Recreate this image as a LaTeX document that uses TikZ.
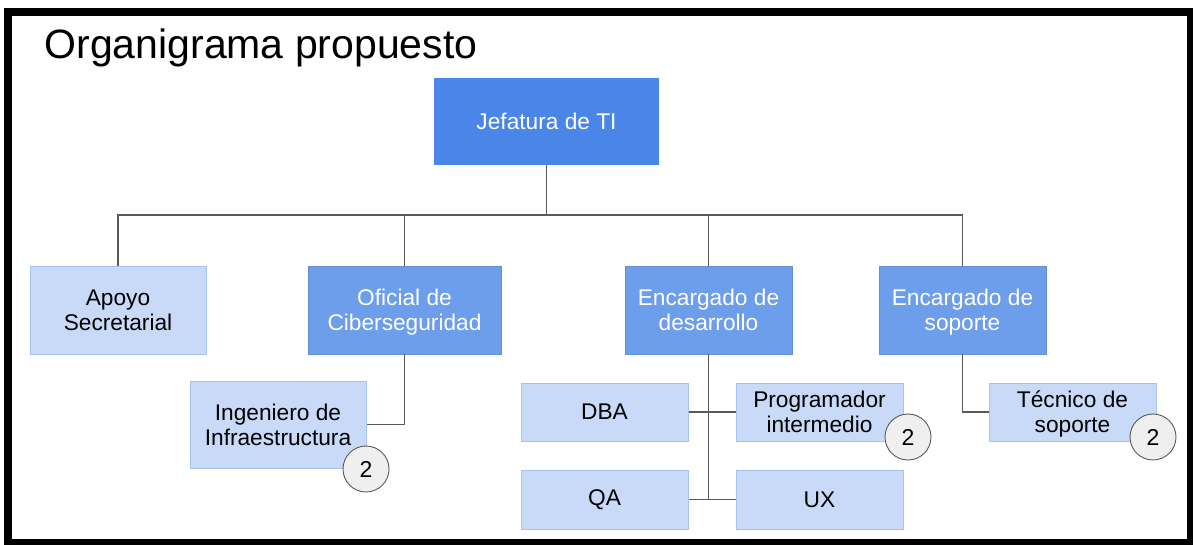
\documentclass[tikz,border=0pt]{standalone}
\usepackage{fontspec}
\setmainfont{Liberation Sans}
\definecolor{azulA}{HTML}{4A86E8}
\definecolor{azulB}{HTML}{6D9EEB}
\definecolor{azulC}{HTML}{C9DAF8}
\definecolor{bordeC}{HTML}{A4C2F4}
\definecolor{linea}{HTML}{595959}
\definecolor{gris}{HTML}{EFEFEF}
\newcommand{\alto}{\rule{0pt}{23.5pt}}
\tikzset{
  caja/.style={align=center, inner sep=0pt, font=\fontsize{22.7}{25}\selectfont},
  jefe/.style={caja, fill=azulA, text=white, minimum width=225pt, minimum height=87pt},
  mando/.style={caja, fill=azulB, draw=azulB!90!black, line width=0.6pt, text=white, minimum width=167pt, minimum height=88pt},
  puesto/.style={caja, fill=azulC, draw=bordeC, line width=1pt, minimum width=167pt, minimum height=58pt},
  cant/.style={circle, fill=gris, draw=linea, line width=0.9pt, minimum size=46pt, inner sep=0pt, font=\fontsize{23}{25}\selectfont},
  enlace/.style={draw=linea, line width=1.5pt}
}
\begin{document}
\begin{tikzpicture}[x=1pt, y=-1pt]
    \useasboundingbox (0,0) rectangle (1193,544);
    \fill[white] (0,0) rectangle (1193,544);
    \draw[black, line width=8pt] (8,12) rectangle (1191,543);
    \node[anchor=base west, font=\fontsize{41}{45}\selectfont] (titulo) at (41,58) {Organigrama propuesto};
    % primer nivel
    \node[jefe] (jefatura) at (546.5,121.5) {Jefatura de TI};
    \node[puesto, minimum width=176pt, minimum height=88pt] (apoyo) at (118,310) {\alto Apoyo\\Secretarial\strut};
    \node[mando, minimum width=193pt] (oficial) at (404.5,310) {\alto Oficial de\\Ciberseguridad\strut};
    \node[mando] (desarrollo) at (708.5,310) {\alto Encargado de\\desarrollo\strut};
    \node[mando] (soporte) at (962.5,310) {\alto Encargado de\\soporte\strut};
    % segundo nivel
    \node[puesto, minimum width=176pt, minimum height=87pt] (ingeniero) at (278,424.5) {\alto Ingeniero de\\Infraestructura\strut};
    \node[puesto] (dba) at (604.5,412) {DBA};
    \node[puesto] (programador) at (819.5,412) {\alto Programador\\intermedio\strut};
    \node[puesto, minimum height=59pt] (qa) at (604.5,499.5) {QA};
    \node[puesto, minimum height=59pt] (ux) at (819.5,499.5) {UX};
    \node[puesto] (tecnico) at (1072.5,412) {\alto Técnico de\\soporte\strut};
    % conectores
    \coordinate (bus) at (546.5,215);
    \draw[enlace] (jefatura.south) -- (bus);
    \draw[enlace] (apoyo.north) |- (bus) -| (soporte.north);
    \draw[enlace] (oficial.north) -- (oficial.north |- bus);
    \draw[enlace] (desarrollo.north) -- (desarrollo.north |- bus);
    \draw[enlace] (oficial.south) |- (ingeniero.east);
    \draw[enlace] (desarrollo.south) -- (desarrollo.south |- qa.east);
    \draw[enlace] (dba.east) -- (programador.west);
    \draw[enlace] (qa.east) -- (ux.west);
    \draw[enlace] (soporte.south) |- (tecnico.west);
    % cantidades
    \node[cant] (n1) at (366,469) {2};
    \node[cant] (n2) at (908,437) {2};
    \node[cant] (n3) at (1153,437) {2};
\end{tikzpicture}
\end{document}
